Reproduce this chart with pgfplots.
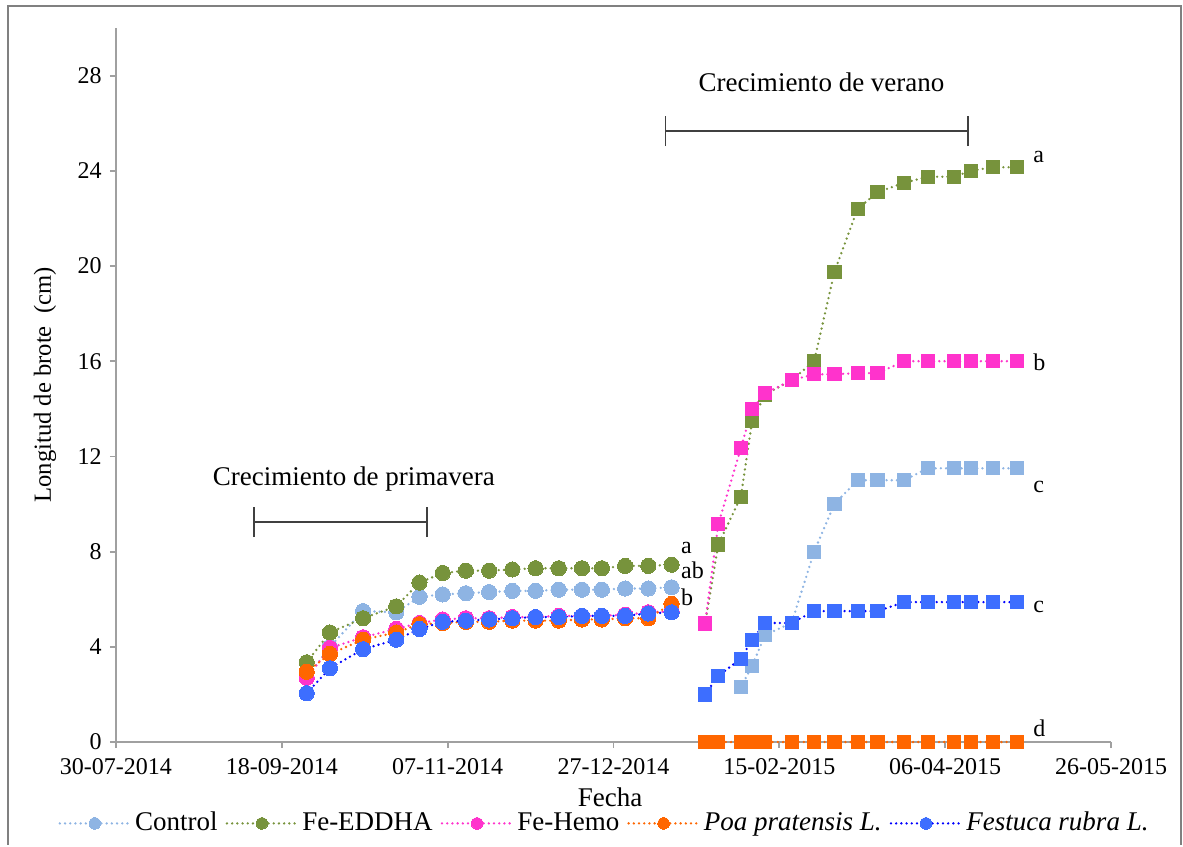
\documentclass[border=0pt,12pt]{standalone}
\usepackage{fontspec}
\setmainfont{Liberation Serif}
\usepackage{pgfplots}
\pgfplotsset{compat=1.18}
\definecolor{cctrl}{HTML}{8EB4E3}
\definecolor{cfe}{HTML}{77933C}
\definecolor{chemo}{HTML}{FF33CC}
\definecolor{cpoa}{HTML}{FF6600}
\definecolor{cfes}{HTML}{3D6EFF}
\definecolor{cfesl}{HTML}{0000FF}
\definecolor{axgray}{HTML}{A0A0A0}
\newcommand{\bigf}{\fontsize{13.5}{16}\selectfont}
\begin{document}
\begin{tikzpicture}
\begin{axis}[
  scale only axis,
  width=497.5pt, height=357pt,
  xmin=0, xmax=300, ymin=0, ymax=30,
  axis lines*=left,
  axis line style={axgray, line width=0.9pt},
  tick align=outside,
  major tick length=3pt,
  every tick/.style={axgray, line width=0.9pt},
  xtick={0,50,100,150,200,250,300},
  xticklabels={30-07-2014,18-09-2014,07-11-2014,27-12-2014,15-02-2015,06-04-2015,26-05-2015},
  ytick={0,4,8,12,16,20,24,28},
  /pgf/number format/assume math mode=true,
  xticklabel style={yshift=-1pt},
  xlabel={Fecha},
  xlabel style={at={(rel axis cs:0.4965,-0.077)}, anchor=center, font=\bigf, inner sep=0pt},
  ylabel={Longitud de brote\ \ (cm)},
  ylabel style={at={(rel axis cs:-0.0714,0.5)}, anchor=center, font=\fontsize{12.3}{14}\selectfont},
  clip=false,
  legend columns=5,
  legend style={at={(rel axis cs:0.492,-0.114)}, anchor=center, draw=none, fill=none, font=\bigf,
    inner sep=0pt, nodes={inner ysep=0pt},
    /tikz/every even column/.append style={column sep=2pt}},
  legend cell align=left,
  legend image code/.code={\draw[mark repeat=2,mark phase=2,mark size=2.9pt] plot coordinates {(0pt,0pt)(17.5pt,0pt)(35pt,0pt)};},
  every axis plot/.append style={line width=1.3pt, dash pattern=on 0pt off 2.6pt, line cap=round},
  circ/.style={mark=*, mark size=3.8pt, mark options={solid, draw=#1, fill=#1, line width=0pt}},
  sq/.style={mark=square*, mark size=3.3pt, mark options={solid, draw=#1, fill=#1, line width=0pt}},
]
% ---------- spring (circles) ----------
\addplot[cctrl, circ=cctrl] coordinates {
(57.5,2.7)(64.5,4.0)(74.5,5.5)(84.5,5.45)(91.5,6.1)(98.5,6.2)(105.5,6.25)(112.5,6.3)
(119.5,6.35)(126.5,6.35)(133.5,6.4)(140.5,6.4)(146.5,6.4)(153.5,6.45)(160.5,6.45)(167.5,6.5)};
\addlegendentry{Control}
\addplot[cfe, circ=cfe] coordinates {
(57.5,3.35)(64.5,4.6)(74.5,5.2)(84.5,5.7)(91.5,6.7)(98.5,7.1)(105.5,7.2)(112.5,7.2)
(119.5,7.25)(126.5,7.3)(133.5,7.3)(140.5,7.3)(146.5,7.3)(153.5,7.4)(160.5,7.4)(167.5,7.45)};
\addlegendentry{Fe-EDDHA}
\addplot[chemo, circ=chemo] coordinates {
(57.5,2.7)(64.5,3.95)(74.5,4.4)(84.5,4.75)(91.5,5.0)(98.5,5.15)(105.5,5.2)(112.5,5.2)
(119.5,5.25)(126.5,5.25)(133.5,5.3)(140.5,5.3)(146.5,5.3)(153.5,5.35)(160.5,5.45)(167.5,5.5)};
\addlegendentry{Fe-Hemo}
\addplot[cpoa, circ=cpoa] coordinates {
(57.5,2.95)(64.5,3.7)(74.5,4.3)(84.5,4.6)(91.5,4.95)(98.5,5.0)(105.5,5.05)(112.5,5.05)
(119.5,5.1)(126.5,5.1)(133.5,5.1)(140.5,5.15)(146.5,5.15)(153.5,5.2)(160.5,5.2)(167.5,5.8)};
\addlegendentry{\textit{Poa pratensis L.}}
\addplot[cfesl, circ=cfes] coordinates {
(57.5,2.05)(64.5,3.1)(74.5,3.9)(84.5,4.3)(91.5,4.75)(98.5,5.05)(105.5,5.1)(112.5,5.15)
(119.5,5.2)(126.5,5.25)(133.5,5.25)(140.5,5.3)(146.5,5.3)(153.5,5.3)(160.5,5.4)(167.5,5.45)};
\addlegendentry{\textit{Festuca rubra L.}}
% ---------- summer (squares) ----------
\addplot[cctrl, sq=cctrl, forget plot] coordinates {
(188.4,2.3)(191.8,3.2)(195.7,4.5)(203.7,5.0)(210.5,8.0)(216.6,10.0)(223.6,11.0)(229.6,11.0)
(237.7,11.0)(244.7,11.5)(252.7,11.5)(257.7,11.5)(264.5,11.5)(271.6,11.5)};
\addplot[cfe, sq=cfe, forget plot] coordinates {
(177.6,4.95)(181.6,8.3)(188.4,10.3)(191.8,13.5)(195.7,14.6)(203.7,15.2)(210.5,16.0)(216.6,19.75)
(223.6,22.4)(229.6,23.1)(237.7,23.5)(244.7,23.75)(252.7,23.75)(257.7,24.0)(264.5,24.15)(271.6,24.15)};
\addplot[chemo, sq=chemo, forget plot] coordinates {
(177.6,4.98)(181.6,9.15)(188.4,12.35)(191.8,14.0)(195.7,14.65)(203.7,15.2)(210.5,15.45)(216.6,15.45)
(223.6,15.5)(229.6,15.5)(237.7,16.0)(244.7,16.0)(252.7,16.0)(257.7,16.0)(264.5,16.0)(271.6,16.0)};
\addplot[cpoa, sq=cpoa, forget plot] coordinates {
(177.6,0)(181.6,0)(188.4,0)(190.1,0)(191.8,0)(195.7,0)(203.7,0)(210.5,0)(216.6,0)
(223.6,0)(229.6,0)(237.7,0)(244.7,0)(252.7,0)(257.7,0)(264.5,0)(271.6,0)};
\addplot[cfesl, sq=cfes, forget plot] coordinates {
(177.6,2.0)(181.6,2.78)(188.4,3.5)(191.8,4.3)(195.7,5.0)(203.7,5.0)(210.5,5.5)(216.6,5.5)
(223.6,5.5)(229.6,5.5)(237.7,5.88)(244.7,5.88)(252.7,5.88)(257.7,5.88)(264.5,5.88)(271.6,5.88)};
% ---------- annotations ----------
\draw[black!75, line width=0.8pt] (axis cs:41.6,9.24) -- (axis cs:93.7,9.24);
\draw[black!75, line width=0.8pt] (axis cs:41.6,8.61) -- (axis cs:41.6,9.87);
\draw[black!75, line width=0.8pt] (axis cs:93.7,8.61) -- (axis cs:93.7,9.87);
\node[font=\bigf] at (axis cs:71.7,11.04) {Crecimiento de primavera};
\draw[black!75, line width=0.8pt] (axis cs:165.7,25.67) -- (axis cs:256.9,25.67);
\draw[black!75, line width=0.8pt] (axis cs:165.7,25.04) -- (axis cs:165.7,26.30);
\draw[black!75, line width=0.8pt] (axis cs:256.9,25.04) -- (axis cs:256.9,26.30);
\node[font=\bigf] at (axis cs:212.7,27.7) {Crecimiento de verano};
\node[anchor=west, inner sep=0pt] at (axis cs:170.3,8.14) {a};
\node[anchor=west, inner sep=0pt] at (axis cs:170.3,7.22) {ab};
\node[anchor=west, inner sep=0pt] at (axis cs:170.3,6.09) {b};
\node[anchor=west, inner sep=0pt] at (axis cs:276.5,24.56) {a};
\node[anchor=west, inner sep=0pt] at (axis cs:276.5,15.95) {b};
\node[anchor=west, inner sep=0pt] at (axis cs:276.5,10.7) {c};
\node[anchor=west, inner sep=0pt] at (axis cs:276.5,5.67) {c};
\node[anchor=west, inner sep=0pt] at (axis cs:276.5,0.59) {d};
% ---------- outer frame ----------
\path (rel axis cs:-0.11658,-0.14566) rectangle (rel axis cs:1.07236,1.03922);
\draw[gray, line width=0.8pt] (rel axis cs:-0.1085,-0.1440) -- (rel axis cs:-0.1085,1.0308) -- (rel axis cs:1.0704,1.0308) -- (rel axis cs:1.0704,-0.1440);
\end{axis}
\end{tikzpicture}
\end{document}
